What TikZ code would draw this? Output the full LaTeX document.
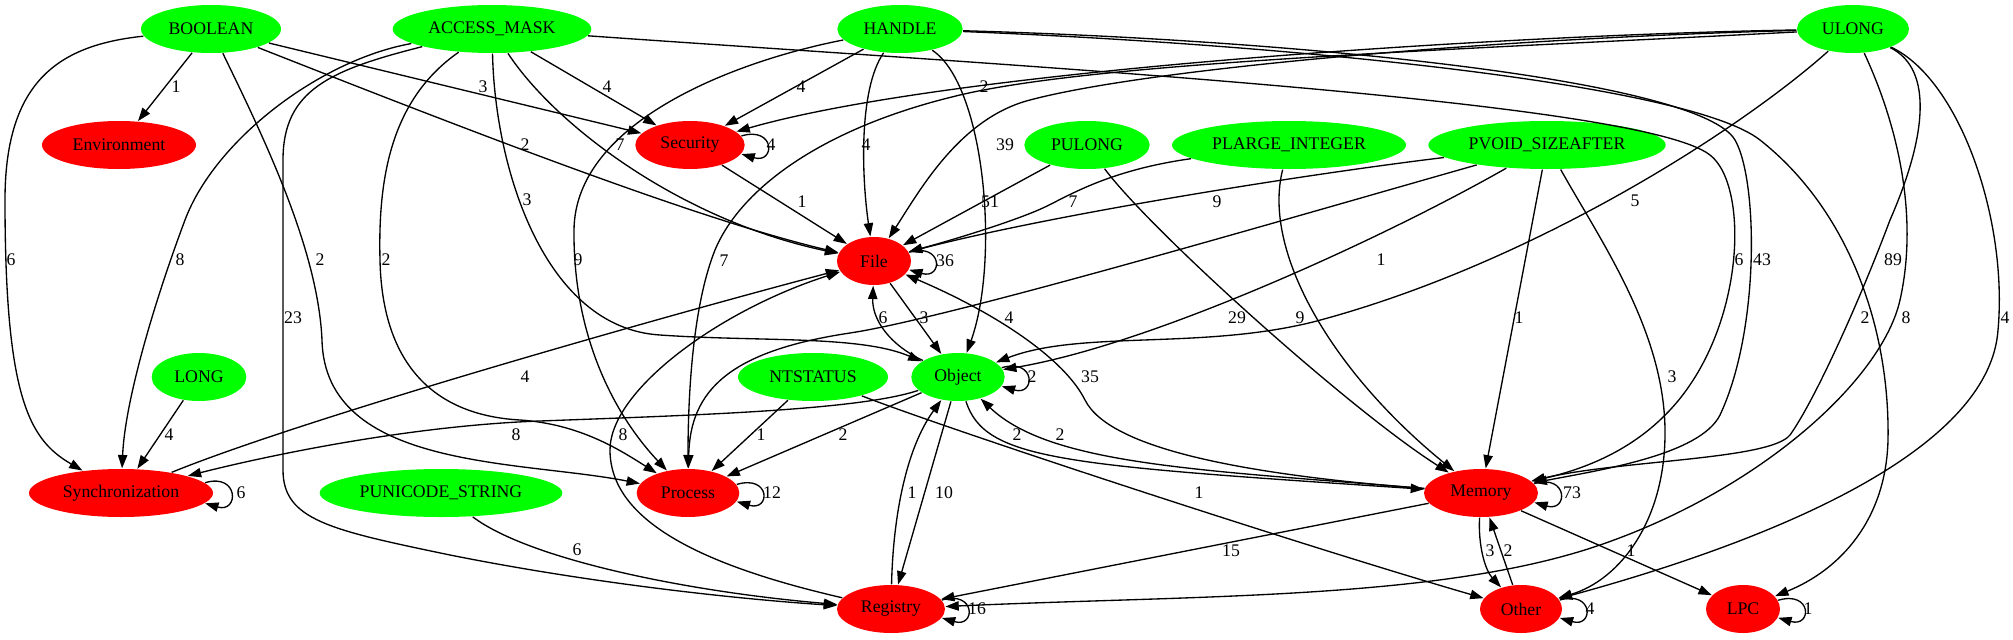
\documentclass[tikz,border=0pt]{standalone}
\usepackage{fontspec}
\setmainfont{Liberation Serif}
\usetikzlibrary{shapes.geometric}
\usetikzlibrary{arrows.meta}
\tikzset{
  type/.style={
    % The shape:
    ellipse,minimum height=36pt,inner sep=0pt,
    % The filling:
    fill=green,
    font=\fontsize{13.3}{16}\selectfont
  }}
\tikzset{
	cat/.style={
		% The shape:
		ellipse,minimum height=36pt,inner sep=0pt,
		% The rest
		fill=red,font=\fontsize{13.3}{16}\selectfont}}
\tikzset{
	cnt/.style={inner sep=0pt,font=\fontsize{13.3}{16}\selectfont},
	>={Triangle[length=10pt,width=7pt]}}

\begin{document}
\begin{tikzpicture}[x=0.75pt,y=-0.75pt,line width=1pt]
	\useasboundingbox (0,0) rectangle (2013,639);
	% Types
	\node[type,minimum width=105pt] (bool) at (211,29) {BOOLEAN};
	\node[type,minimum width=149pt] (amask) at (492,29) {ACCESS\_MASK};
	\node[type,minimum width=94pt] (hnd) at (900,29) {HANDLE};
	\node[type,minimum width=84pt] (ulong) at (1853,29) {ULONG};
	\node[type,minimum width=94pt] (pulong) at (1087,145) {PULONG};
	\node[type,minimum width=175.5pt] (plarge) at (1289,145) {PLARGE\_INTEGER};
	\node[type,minimum width=178pt] (pvoid) at (1547,145) {PVOID\_SIZEAFTER};
	\node[type,minimum width=71pt] (long) at (199,377) {LONG};
	\node[type,minimum width=112.5pt] (ntstatus) at (813,377) {NTSTATUS};
	\node[type,minimum width=70pt] (obj) at (958,377) {Object};
	\node[type,minimum width=182pt] (punicode) at (441,493) {PUNICODE\_STRING};
	% Categories
	\node[cat,minimum width=115.5pt] (env) at (119,145) {Environment};
	\node[cat,minimum width=82pt] (sec) at (690,145) {Security};
	\node[cat,minimum width=55.5pt] (file) at (874,261) {File};
	\node[cat,minimum width=138pt] (sync) at (121,493) {Synchronization};
	\node[cat,minimum width=77pt] (proc) at (688,493) {Process};
	\node[cat,minimum width=85.5pt] (mem) at (1481,493) {Memory};
	\node[cat,minimum width=81pt] (reg) at (891,609) {Registry};
	\node[cat,minimum width=61.5pt] (other) at (1521,609) {Other};
	\node[cat,minimum width=55.5pt] (lpc) at (1743,609) {LPC};

	% Lines out of bool
	\draw[->] (bool) -- (env);
	\node[cnt] (c-bool-env) at (176,87) {1};
	\draw[->] (bool) -- (sec);
	\node[cnt] (c-bool-sec) at (483,87) {3};
	\draw[->] (bool) .. controls (480,135) and (700,220) .. (file);
	\node[cnt] (c-bool-file) at (525,145) {2};
	\draw[->] (bool) .. controls (60,45) and (5,80) .. (5,200) .. controls (5,400) and (30,440) .. (sync);
	\node[cnt] (c-bool-sync) at (11,260) {6};
	\draw[->] (bool) .. controls (265,140) and (318,250) .. (322,340) .. controls (325,470) and (520,460) .. (proc);
	\node[cnt] (c-bool-proc) at (320,260) {2};
	% Lines out of amask
	\draw[->] (amask) -- (sec);
	\node[cnt] (c-amask-sec) at (607,87) {4};
	\draw[->] (amask) .. controls (555,125) and (680,220) .. (file);
	\node[cnt] (c-amask-file) at (620,145) {7};
	\draw[->] (amask) .. controls (495,170) and (545,328) .. (660,335) .. controls (760,342) and (860,335) .. (obj);
	\node[cnt] (c-amask-obj) at (527,200) {3};
	\draw[->] (amask) .. controls (320,60) and (215,140) .. (185,220) .. controls (155,300) and (125,400) .. (sync);
	\node[cnt] (c-amask-sync) at (180,260) {8};
	\draw[->] (amask) .. controls (390,100) and (378,180) .. (380,260) .. controls (382,360) and (430,415) .. (520,420) .. controls (580,424) and (620,450) .. (proc);
	\node[cnt] (c-amask-proc) at (386,260) {2};
	\draw[->] (amask) .. controls (330,70) and (283,90) .. (283,160) -- (283,470) .. controls (283,520) and (330,530) .. (450,555) .. controls (600,585) and (750,600) .. (reg);
	\node[cnt] (c-amask-reg) at (293,318) {23};
	\draw[->] (amask) .. controls (1000,65) and (1640,100) .. (1710,155) .. controls (1750,186) and (1745,330) .. (1670,410) .. controls (1630,453) and (1580,470) .. (mem);
	\node[cnt] (c-amask-mem) at (1739,260) {6};
	% Lines out of hnd
	\draw[->] (hnd) -- (sec);
	\node[cnt] (c-hnd-sec) at (801,87) {4};
	\draw[->] (hnd) .. controls (858,90) and (862,180) .. (file);
	\node[cnt] (c-hnd-file) at (866,145) {4};
	\draw[->] (hnd) .. controls (985,85) and (1000,260) .. (obj);
	\node[cnt] (c-hnd-obj) at (1009,318) {4};
	\draw[->] (hnd) .. controls (740,60) and (575,120) .. (574,230) .. controls (573,330) and (610,410) .. (proc);
	\node[cnt] (c-hnd-proc) at (578,260) {9};
	\draw[->] (hnd) .. controls (1300,40) and (1700,80) .. (1735,140) .. controls (1758,180) and (1760,330) .. (1720,415) .. controls (1700,455) and (1600,470) .. (mem);
	\node[cnt] (c-hnd-mem) at (1762,260) {43};
	\draw[->] (hnd) .. controls (1300,45) and (1690,85) .. (1760,140) .. controls (1850,211) and (1890,330) .. (1888,440) .. controls (1886,520) and (1840,570) .. (lpc);
	\node[cnt] (c-hnd-lpc) at (1865,318) {2};
	% Lines out of ulong
	\draw[->] (ulong) .. controls (1500,35) and (950,70) .. (sec);
	\node[cnt] (c-ulong-sec) at (984,87) {2};
	\draw[->] (ulong) .. controls (1500,38) and (1150,68) .. (1030,100) .. controls (960,118) and (920,190) .. (file);
	\node[cnt] (c-ulong-file) at (1005,145) {39};
	\draw[->] (ulong) .. controls (1450,50) and (1100,62) .. (960,95) .. controls (820,128) and (740,190) .. (715,250) .. controls (695,300) and (688,380) .. (proc);
	\node[cnt] (c-ulong-proc) at (724,261) {7};
	\draw[->] (ulong) .. controls (1740,130) and (1530,265) .. (1313,322) .. controls (1200,350) and (1080,330) .. (obj);
	\node[cnt] (c-ulong-obj) at (1635,201) {5};
	\draw[->] (ulong) .. controls (1935,70) and (1925,140) .. (1890,220) .. controls (1860,300) and (1815,400) .. (1790,435) .. controls (1770,460) and (1620,460) .. (mem);
	\node[cnt] (c-ulong-mem) at (1893,260) {89};
	\draw[->] (ulong) .. controls (1900,130) and (1918,220) .. (1900,300) .. controls (1882,380) and (1760,490) .. (1600,545) .. controls (1440,600) and (1200,595) .. (reg);
	\node[cnt] (c-ulong-reg) at (1906,318) {8};
	\draw[->] (ulong) .. controls (1960,80) and (2008,220) .. (1998,330) .. controls (1988,470) and (1700,560) .. (other);
	\node[cnt] (c-ulong-other) at (2005,318) {4};
	% Lines out of pulong, plarge and pvoid
	\draw[->] (pulong) -- (file);
	\node[cnt] (c-pulong-file) at (990,202) {51};
	\draw[->] (pulong) .. controls (1150,230) and (1350,410) .. (mem);
	\node[cnt] (c-pulong-mem) at (1237,318) {29};
	\draw[->] (plarge) .. controls (1110,170) and (1070,195) .. (1045,207) .. controls (1020,219) and (960,238) .. (file);
	\node[cnt] (c-plarge-file) at (1073,202) {7};
	\draw[->] (plarge) .. controls (1262,250) and (1330,370) .. (mem);
	\node[cnt] (c-plarge-mem) at (1300,318) {9};
	\draw[->] (pvoid) .. controls (1300,175) and (1050,215) .. (file);
	\node[cnt] (c-pvoid-file) at (1217,202) {9};
	\draw[->] (pvoid) .. controls (1380,240) and (1150,345) .. (obj);
	\node[cnt] (c-pvoid-obj) at (1381,260) {1};
	\draw[->] (pvoid) .. controls (1300,215) and (950,318) .. (850,333) .. controls (730,351) and (690,390) .. (proc);
	\draw[->] (pvoid) -- (mem);
	\node[cnt] (c-pvoid-mem) at (1519,318) {1};
	\draw[->] (pvoid) .. controls (1600,240) and (1664,330) .. (1665,430) .. controls (1666,520) and (1620,580) .. (other);
	\node[cnt] (c-pvoid-other) at (1672,377) {3};
	% Lines out of sec and file
	\draw[->] (sec) -- (file);
	\node[cnt] (c-sec-file) at (802,202) {1};
	\draw[->] (sec.10) .. controls +(34,-10) and +(34,10) .. (sec.-10);
	\node[cnt] (c-sec-sec) at (771,145) {4};
	\draw[->] (file) -- (obj);
	\node[cnt] (c-file-obj) at (924,318) {3};
	\draw[->] (file.14) .. controls +(34,-10) and +(34,10) .. (file.-14);
	\node[cnt] (c-file-file) at (945,261) {36};
	% Lines out of obj
	\draw[->] (obj) .. controls (890,345) and (872,320) .. (file);
	\node[cnt] (c-obj-file) at (883,318) {6};
	\draw[->] (obj) .. controls (860,410) and (700,415) .. (540,421) .. controls (400,426) and (250,460) .. (sync);
	\node[cnt] (c-obj-sync) at (516,435) {8};
	\draw[->] (obj) -- (proc);
	\node[cnt] (c-obj-proc) at (843,435) {2};
	\draw[->] (obj) -- (reg);
	\node[cnt] (c-obj-reg) at (944,493) {10};
	\draw[->] (obj) .. controls (985,460) and (1060,465) .. (mem);
	\node[cnt] (c-obj-mem) at (1017,435) {2};
	\draw[->] (obj.12) .. controls +(34,-10) and +(34,10) .. (obj.-12);
	\node[cnt] (c-obj-obj) at (1032,377) {2};
	% Lines out of the lower nodes
	\draw[->] (long) -- (sync);
	\node[cnt] (c-long-sync) at (169,435) {4};
	\draw[->] (sync) .. controls (300,420) and (650,320) .. (file);
	\node[cnt] (c-sync-file) at (525,377) {4};
	\draw[->] (sync.7) .. controls +(34,-10) and +(34,10) .. (sync.-7);
	\node[cnt] (c-sync-sync) at (241,493) {6};
	\draw[->] (ntstatus) -- (proc);
	\node[cnt] (c-nts-proc) at (761,435) {1};
	\draw[->] (ntstatus) .. controls (950,430) and (1300,545) .. (other);
	\node[cnt] (c-nts-other) at (1199,493) {1};
	\draw[->] (proc.10) .. controls +(34,-10) and +(34,10) .. (proc.-10);
	\node[cnt] (c-proc-proc) at (772,493) {12};
	\draw[->] (punicode) .. controls (530,560) and (690,592) .. (reg);
	\node[cnt] (c-puni-reg) at (577,550) {6};
	\draw[->] (mem) .. controls (1250,475) and (1110,450) .. (1085,400) .. controls (1065,360) and (1000,315) .. (file);
	\node[cnt] (c-mem-file) at (1090,377) {35};
	\draw[->] (mem) .. controls (1200,470) and (1050,465) .. (obj);
	\node[cnt] (c-mem-obj) at (1060,435) {2};
	\draw[->] (mem) -- (reg);
	\node[cnt] (c-mem-reg) at (1231,551) {15};
	\draw[->] (mem) .. controls (1478,545) and (1485,570) .. (other);
	\node[cnt] (c-mem-other) at (1490,551) {3};
	\draw[->] (mem) -- (lpc);
	\node[cnt] (c-mem-lpc) at (1631,551) {1};
	\draw[->] (mem.10) .. controls +(34,-10) and +(34,10) .. (mem.-10);
	\node[cnt] (c-mem-mem) at (1572,493) {73};
	\draw[->] (other) -- (mem);
	\node[cnt] (c-other-mem) at (1508,551) {2};
	\draw[->] (other.13) .. controls +(34,-10) and +(34,10) .. (other.-13);
	\node[cnt] (c-other-other) at (1590,609) {4};
	\draw[->] (reg) .. controls (893,520) and (905,450) .. (obj);
	\node[cnt] (c-reg-obj) at (912,493) {1};
	\draw[->] (reg) .. controls (700,565) and (610,520) .. (610,450) .. controls (610,390) and (720,310) .. (file);
	\node[cnt] (c-reg-file) at (623,435) {8};
	\draw[->] (reg.10) .. controls +(34,-10) and +(34,10) .. (reg.-10);
	\node[cnt] (c-reg-reg) at (977,609) {16};
	\draw[->] (lpc.14) .. controls +(34,-10) and +(34,10) .. (lpc.-14);
	\node[cnt] (c-lpc-lpc) at (1808,609) {1};
\end{tikzpicture}
\end{document}
